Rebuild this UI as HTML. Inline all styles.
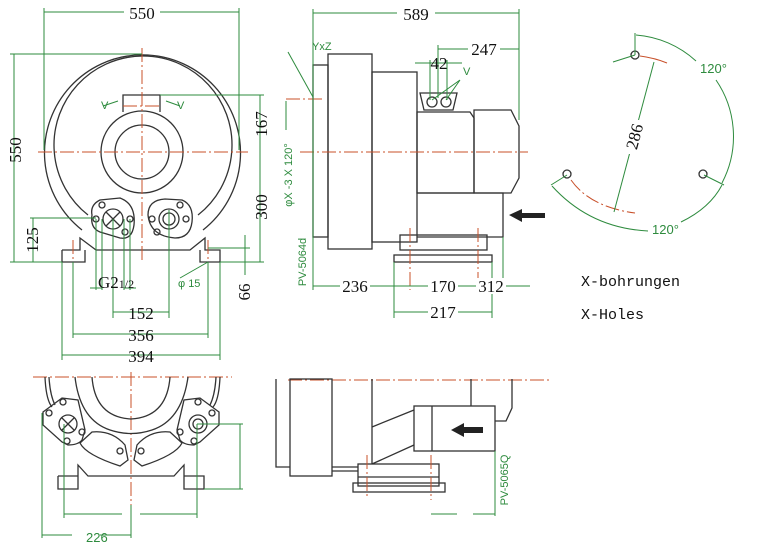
<!DOCTYPE html>
<html><head><meta charset="utf-8"><style>
html,body{margin:0;padding:0;background:#fff;}
svg{display:block;font-family:"Liberation Serif",serif;}
.k{stroke:#333;stroke-width:1.3;fill:none}
.g{stroke:#2e8b3e;stroke-width:1;fill:none}
.r{stroke:#c8502a;stroke-width:1;fill:none;stroke-dasharray:14 3 2 3}
.t{font-size:17px;fill:#111}
.gt{font-family:"Liberation Sans",sans-serif;font-size:11px;fill:#2e8b3e}
</style></head><body>
<svg width="771" height="556" viewBox="0 0 771 556" xmlns="http://www.w3.org/2000/svg">
<!-- FRONT VIEW -->
<path class="k" d="M82,230 A98,98 0 1 1 203,230"/>
<path class="k" d="M88,215 A89,89 0 1 1 198,215"/>
<circle class="k" cx="142" cy="152" r="41"/>
<circle class="k" cx="142" cy="152" r="27"/>
<path class="k" d="M123,112 V95 H160 V112"/>
<line class="r" x1="123" y1="106" x2="160" y2="106"/>
<path class="k" d="M92,215 Q90,205 100,200 L120,198 Q136,204 134,225 Q132,240 120,238 L100,232 Q90,228 92,215Z"/>
<path class="k" d="M148,215 Q148,200 165,199 L182,200 Q194,205 192,222 Q190,238 175,238 Q150,236 148,215Z"/>
<circle class="k" cx="113" cy="219" r="10"/>
<path class="k" d="M106,212 L120,226 M120,212 L106,226" stroke-width="2"/>
<circle class="k" cx="169" cy="219" r="10"/><circle class="k" cx="169" cy="219" r="6"/>
<g class="k"><circle cx="102" cy="205" r="3"/><circle cx="96" cy="219" r="3"/><circle cx="130" cy="219" r="3"/><circle cx="125" cy="232" r="3"/>
<circle cx="180" cy="205" r="3"/><circle cx="186" cy="219" r="3"/><circle cx="152" cy="219" r="3"/><circle cx="157" cy="232" r="3"/></g>
<path class="k" d="M62,250 H80 V238 L96,250 H190 L205,238 V250 H220 V262 H200 V250 M62,250 V262 H85 V250"/>
<line class="r" x1="38" y1="152" x2="248" y2="152"/>
<line class="r" x1="142" y1="48" x2="142" y2="262"/>
<line class="r" x1="73" y1="240" x2="73" y2="270"/><line class="r" x1="208" y1="240" x2="208" y2="270"/>
<!-- dims front -->
<g class="g">
<line x1="44" y1="12" x2="239" y2="12"/><line x1="44" y1="8" x2="44" y2="150"/><line x1="239" y1="8" x2="239" y2="150"/>
<line x1="14" y1="54" x2="14" y2="262"/><line x1="10" y1="54" x2="142" y2="54"/><line x1="10" y1="262" x2="62" y2="262"/>
<line x1="260" y1="95" x2="260" y2="262"/><line x1="160" y1="95" x2="264" y2="95"/><line x1="220" y1="262" x2="264" y2="262"/>
<line x1="33" y1="218" x2="33" y2="262"/><line x1="30" y1="218" x2="96" y2="218"/>
<line x1="245" y1="235" x2="245" y2="275"/><line x1="208" y1="248" x2="250" y2="248"/>
<line x1="113" y1="219" x2="113" y2="318"/><line x1="169" y1="210" x2="169" y2="318"/><line x1="113" y1="312" x2="169" y2="312"/>
<line x1="73" y1="262" x2="73" y2="338"/><line x1="208" y1="262" x2="208" y2="338"/><line x1="73" y1="334" x2="208" y2="334"/>
<line x1="62" y1="262" x2="62" y2="360"/><line x1="220" y1="262" x2="220" y2="360"/><line x1="62" y1="355" x2="220" y2="355"/>
<line x1="96" y1="219" x2="96" y2="290"/><line x1="102" y1="219" x2="102" y2="290"/><line x1="124" y1="219" x2="124" y2="290"/><line x1="130" y1="219" x2="130" y2="290"/>
<line x1="90" y1="288" x2="102" y2="288"/><line x1="124" y1="288" x2="136" y2="288"/>
<line x1="180" y1="278" x2="208" y2="262"/>
<path d="M118,101 L103,106 M166,101 L180,106"/>
</g>
<text x="101" y="109" class="gt">V</text><text x="177" y="109" class="gt">V</text>
<rect x="124" y="4" width="36" height="16" fill="#fff"/><text x="142" y="19" class="t" text-anchor="middle">550</text>
<text transform="translate(21,150) rotate(-90)" class="t" text-anchor="middle">550</text>
<text transform="translate(267,124) rotate(-90)" class="t" text-anchor="middle">167</text>
<text transform="translate(267,207) rotate(-90)" class="t" text-anchor="middle">300</text>
<text transform="translate(38,240) rotate(-90)" class="t" text-anchor="middle">125</text>
<text transform="translate(250,292) rotate(-90)" class="t" text-anchor="middle">66</text>
<text x="98" y="288" class="t">G2<tspan font-size="12">1/2</tspan></text>
<text x="178" y="287" class="gt">φ 15</text>
<text x="141" y="319" class="t" text-anchor="middle">152</text>
<text x="141" y="341" class="t" text-anchor="middle">356</text>
<text x="141" y="362" class="t" text-anchor="middle">394</text>
<!-- SIDE VIEW -->
<g class="k">
<rect x="313" y="65" width="15" height="172"/>
<rect x="328" y="54" width="44" height="195"/>
<rect x="372" y="72" width="45" height="170"/>
<path d="M417,112 H470 L474,118 V193 H417Z"/>
<path d="M474,110 H511 L519,126 V178 L511,193 H474Z"/>
<path d="M417,193 H503 V237 H417"/>
<rect x="400" y="235" width="87" height="15"/>
<rect x="394" y="255" width="98" height="7"/>
<path d="M420,93 H457 L453,110 H424Z"/>
<circle cx="432" cy="102" r="5"/><circle cx="446" cy="102" r="5"/>
</g>
<polygon points="509,215 522,209 522,213 545,213 545,218 522,218 522,222" fill="#222"/>
<line class="r" x1="300" y1="152" x2="528" y2="152"/>
<line class="r" x1="410" y1="228" x2="410" y2="290"/><line class="r" x1="478" y1="228" x2="478" y2="290"/>
<line class="r" x1="286" y1="99" x2="325" y2="99"/>
<g class="g">
<line x1="313" y1="13" x2="519" y2="13"/><line x1="313" y1="9" x2="313" y2="290"/><line x1="519" y1="9" x2="519" y2="120"/>
<line x1="438" y1="49" x2="519" y2="49"/><line x1="438" y1="45" x2="438" y2="98"/>
<line x1="415" y1="63" x2="462" y2="63"/><line x1="430" y1="60" x2="430" y2="100"/><line x1="447" y1="60" x2="447" y2="100"/>
<path d="M432,100 L460,80 M446,100 L460,80"/>
<line x1="288" y1="52" x2="313" y2="97"/>
<line x1="286" y1="101" x2="286" y2="130"/>
<line x1="313" y1="286" x2="530" y2="286"/><line x1="503" y1="237" x2="503" y2="290"/>
<line x1="394" y1="262" x2="394" y2="318"/><line x1="492" y1="262" x2="492" y2="318"/><line x1="394" y1="312" x2="492" y2="312"/>
</g>
<text x="463" y="75" class="gt">V</text>
<text x="312" y="50" class="gt">YxZ</text>
<text transform="translate(292,175) rotate(-90)" class="gt" text-anchor="middle">φX -3 X 120°</text>
<text transform="translate(306,262) rotate(-90)" class="gt" text-anchor="middle">PV-5064d</text>
<rect x="397" y="5" width="38" height="16" fill="#fff"/><text x="416" y="20" class="t" text-anchor="middle">589</text>
<rect x="468" y="41" width="32" height="16" fill="#fff"/><text x="484" y="55" class="t" text-anchor="middle">247</text>
<text x="439" y="69" class="t" text-anchor="middle">42</text>
<rect x="340" y="278" width="30" height="16" fill="#fff"/><text x="355" y="292" class="t" text-anchor="middle">236</text>
<rect x="428" y="278" width="30" height="16" fill="#fff"/><text x="443" y="292" class="t" text-anchor="middle">170</text>
<rect x="476" y="278" width="30" height="16" fill="#fff"/><text x="491" y="292" class="t" text-anchor="middle">312</text>
<rect x="428" y="304" width="30" height="16" fill="#fff"/><text x="443" y="318" class="t" text-anchor="middle">217</text>
<!-- HOLE PATTERN -->
<g class="k"><circle cx="635" cy="55" r="4"/><circle cx="567" cy="174" r="4"/><circle cx="703" cy="174" r="4"/></g>
<path class="r" d="M640,56 Q655,58 667,63" style="stroke-dasharray:none"/>
<path class="r" d="M571,180 Q590,207 635,213"/>
<g class="g">
<line x1="635" y1="33" x2="635" y2="55"/><line x1="613" y1="62" x2="635" y2="55"/>
<path d="M636,35 A100,100 0 0 1 696,61"/><path d="M716,80 A100,100 0 0 1 722,183"/>
<path d="M704,175 L724,185"/><path d="M551,185 L567,175"/>
<path d="M552,186 Q590,228 648,231"/><path d="M681,222 Q710,208 722,185"/>
<line x1="654" y1="62" x2="614" y2="212"/>
</g>
<text x="700" y="73" class="gt" style="font-size:13px">120°</text>
<text x="652" y="234" class="gt" style="font-size:13px">120°</text>
<rect x="624" y="120" width="18" height="34" fill="#fff"/>
<text transform="translate(640,138) rotate(-75)" class="t" text-anchor="middle">286</text>
<text x="581" y="286" style="font-family:'Liberation Mono',monospace;font-size:15px;fill:#111">X-bohrungen</text>
<text x="581" y="319" style="font-family:'Liberation Mono',monospace;font-size:15px;fill:#111">X-Holes</text>
<!-- BOTTOM LEFT VIEW -->
<line class="r" x1="33" y1="377" x2="232" y2="377"/>
<line class="r" x1="131" y1="372" x2="131" y2="505"/>
<path class="k" d="M45,377 Q46,400 52,407 M220,377 Q219,400 213,407"/>
<path class="k" d="M49,377 Q50,395 55,405 M216,377 Q215,395 210,405"/>
<path class="k" d="M75,377 Q80,420 110,430 Q131,437 152,430 Q182,420 188,377"/>
<path class="k" d="M92,377 Q95,417 131,419 Q167,417 170,377"/>
<path class="k" d="M43,412 L62,398 L78,400 L85,430 L82,440 Q78,445 68,445 L62,442 L43,425Z"/>
<path class="k" d="M219,412 L200,398 L184,400 L177,430 L180,440 Q184,445 194,445 L200,442 L219,425Z"/>
<path class="k" d="M80,443 Q86,455 120,466 L128,460 L125,445 Q112,430 92,432Z"/>
<path class="k" d="M182,443 Q176,455 142,466 L134,460 L137,445 Q150,430 170,432Z"/>
<circle class="k" cx="68" cy="424" r="9"/><path class="k" d="M62,418 L74,430 M74,418 L62,430" stroke-width="2"/>
<circle class="k" cx="198" cy="424" r="9"/><circle class="k" cx="198" cy="424" r="5"/>
<g class="k"><circle cx="49" cy="413" r="3"/><circle cx="63" cy="402" r="3"/><circle cx="82" cy="432" r="3"/><circle cx="67" cy="441" r="3"/><circle cx="120" cy="451" r="3"/>
<circle cx="212" cy="413" r="3"/><circle cx="198" cy="402" r="3"/><circle cx="180" cy="432" r="3"/><circle cx="194" cy="441" r="3"/><circle cx="141" cy="451" r="3"/></g>
<path class="k" d="M58,476 H78 V465 L88,476 H174 L184,465 V476 H204 V489 H184 V476 M58,476 V489 H78 V476"/>
<g class="g">
<line x1="64" y1="424" x2="64" y2="518"/><line x1="197" y1="424" x2="197" y2="518"/>
<line x1="64" y1="514" x2="122" y2="514"/><line x1="140" y1="514" x2="197" y2="514"/>
<line x1="42" y1="413" x2="42" y2="538"/><line x1="131" y1="505" x2="131" y2="538"/>
<line x1="42" y1="535" x2="72" y2="535"/><line x1="100" y1="535" x2="131" y2="535"/>
<line x1="197" y1="424" x2="243" y2="424"/><line x1="204" y1="489" x2="243" y2="489"/><line x1="240" y1="424" x2="240" y2="489"/>
</g>
<text x="86" y="542" class="gt" style="font-size:13px">226</text>
<!-- BOTTOM RIGHT VIEW -->
<line class="r" x1="288" y1="380" x2="550" y2="380"/>
<g class="k">
<path d="M276,379 V467 H290"/>
<rect x="290" y="379" width="42" height="97"/>
<path d="M332,467 H358 M332,471 H358"/>
<path d="M372,379 V464 M372,427 L414,410 M372,464 L414,445"/>
<rect x="414" y="406" width="81" height="45"/><line x1="432" y1="406" x2="432" y2="451"/>
<path d="M471,379 V406 M495,421 H506 L512,408 V379"/>
<rect x="358" y="464" width="81" height="22"/><line x1="358" y1="477" x2="439" y2="477"/>
<rect x="353" y="483" width="92" height="9"/>
</g>
<line class="r" x1="367" y1="455" x2="367" y2="498"/><line class="r" x1="431" y1="455" x2="431" y2="500"/>
<polygon points="451,430 464,423 464,427 483,427 483,433 464,433 464,437" fill="#222"/>
<g class="g"><line x1="495" y1="451" x2="495" y2="516"/><line x1="431" y1="514" x2="457" y2="514"/><line x1="473" y1="514" x2="495" y2="514"/></g>
<text transform="translate(508,480) rotate(-90)" class="gt" text-anchor="middle">PV-5065Q</text>
</svg>
</body></html>
